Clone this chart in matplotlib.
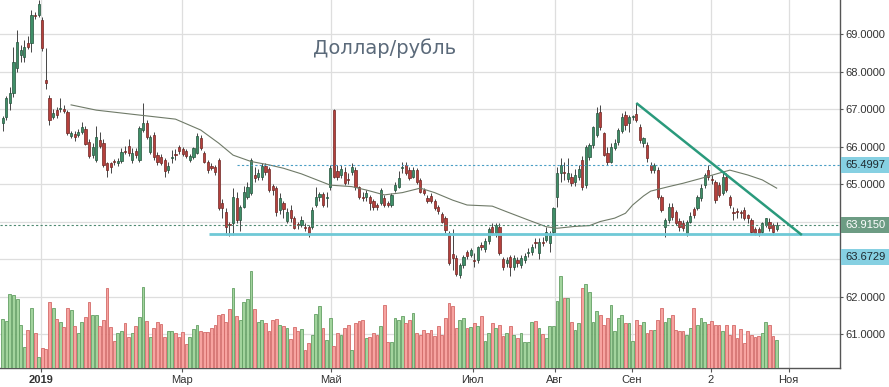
import matplotlib.pyplot as plt
from matplotlib.patches import Rectangle

# daily candles, USD/RUB
opens = [
    66.63, 66.79, 67.16, 67.43, 68.09, 68.44, 68.39, 68.76, 68.76, 69.51,
    69.51, 69.37, 67.77, 67.29, 66.79, 66.97, 67.01, 67.00, 66.92, 66.28,
    66.33, 66.31, 66.39, 66.47, 66.12, 65.77, 65.64, 66.17, 66.09, 65.56,
    65.56, 65.60, 65.56, 65.61, 65.88, 66.01, 65.64, 65.88, 65.64, 66.44,
    66.63, 65.85, 66.31, 65.77, 65.72, 65.64, 65.37, 65.69, 65.78, 65.99,
    65.93, 65.88, 65.64, 65.72, 65.83, 66.23, 65.83, 65.59, 65.48, 65.45,
    65.64, 64.49, 64.25, 63.91, 63.96, 64.63, 64.04, 64.39, 64.65, 64.76,
    65.24, 65.19, 65.19, 65.48, 65.40, 64.95, 64.89, 64.31, 64.49, 64.01,
    64.31, 64.09, 63.92, 63.91, 63.86, 63.85, 63.85, 64.44, 64.65, 64.73,
    64.62, 64.92, 66.97, 65.35, 65.24, 65.32, 65.11, 65.32, 65.37, 64.92,
    64.66, 64.65, 64.65, 64.55, 64.44, 64.49, 64.63, 64.49, 64.44, 64.84,
    64.92, 65.43, 65.51, 65.37, 65.19, 65.37, 65.11, 64.84, 64.63, 64.68,
    64.55, 64.39, 64.20, 64.09, 63.69, 63.13, 63.03, 62.57, 62.84, 63.19,
    63.11, 62.96, 62.97, 63.37, 63.27, 63.48, 63.85, 63.69, 63.85, 63.00,
    62.89, 63.05, 62.79, 62.97, 62.84, 62.97, 63.16, 63.19, 63.45, 63.16,
    63.45, 63.51, 63.43, 63.72, 64.65, 65.29, 65.32, 65.13, 65.19, 65.05,
    65.19, 65.64, 64.97, 65.72, 66.04, 66.31, 66.92, 66.36, 65.83, 65.59,
    65.96, 66.12, 66.41, 66.84, 66.63, 66.79, 66.87, 66.52, 66.09, 66.04,
    65.51, 65.37, 65.37, 64.65, 63.85, 64.04, 64.39, 64.25, 64.01, 63.96,
    63.69, 63.99, 64.33, 64.36, 64.63, 64.97, 65.37, 65.11, 65.05, 64.97,
    64.76, 65.19, 64.65, 64.25, 64.26, 64.23, 64.31, 64.17, 64.04, 63.80,
    63.80, 63.72, 63.91, 63.99, 63.91, 63.80]
highs = [
    66.81, 67.35, 67.59, 68.65, 69.11, 68.71, 68.84, 68.95, 69.64, 69.60,
    69.91, 69.45, 68.63, 67.37, 67.00, 67.05, 67.29, 67.10, 66.98, 66.42,
    66.42, 66.47, 66.65, 66.55, 66.20, 66.10, 66.55, 66.38, 66.20, 65.60,
    65.60, 65.66, 65.70, 65.95, 66.01, 66.20, 65.95, 65.95, 66.55, 67.16,
    66.70, 66.30, 66.40, 65.85, 65.80, 65.70, 65.60, 65.90, 65.93, 66.05,
    66.00, 65.93, 65.80, 66.00, 66.35, 66.30, 65.88, 65.65, 65.55, 65.50,
    65.70, 64.60, 64.35, 64.00, 64.90, 64.80, 64.45, 64.95, 65.05, 65.70,
    65.45, 65.40, 65.55, 65.55, 65.45, 65.00, 64.95, 64.75, 64.55, 64.35,
    64.45, 64.15, 64.00, 64.15, 63.95, 63.90, 64.40, 64.92, 64.78, 64.80,
    64.80, 65.50, 66.99, 65.50, 65.50, 65.45, 65.30, 65.56, 65.45, 64.95,
    64.80, 64.85, 64.70, 64.60, 64.50, 64.90, 64.70, 64.55, 64.75, 65.05,
    65.35, 65.60, 65.60, 65.45, 65.45, 65.42, 65.15, 64.90, 64.70, 64.75,
    64.60, 64.45, 64.25, 64.15, 63.75, 63.80, 63.10, 62.90, 63.10, 63.25,
    63.30, 63.15, 63.35, 63.45, 63.55, 63.85, 63.95, 63.95, 63.95, 63.05,
    63.05, 63.10, 63.10, 63.05, 63.10, 63.15, 63.30, 63.40, 63.55, 63.55,
    63.60, 63.85, 63.75, 64.40, 65.45, 65.70, 65.60, 65.70, 65.30, 65.40,
    65.50, 65.75, 66.05, 66.10, 66.55, 67.05, 67.10, 66.40, 66.00, 66.10,
    66.20, 66.50, 66.90, 66.95, 66.85, 66.85, 67.16, 66.60, 66.25, 66.12,
    65.60, 65.55, 65.45, 64.70, 64.10, 64.50, 64.50, 64.30, 64.10, 64.05,
    64.05, 64.25, 64.40, 64.70, 65.00, 65.30, 65.52, 65.25, 65.10, 65.05,
    65.30, 65.30, 64.70, 64.40, 64.35, 64.30, 64.40, 64.20, 64.10, 63.85,
    63.85, 64.00, 64.10, 64.10, 63.95, 64.00]
lows = [
    66.41, 66.70, 66.97, 67.32, 67.99, 68.25, 68.25, 68.60, 68.52, 69.40,
    69.45, 68.55, 67.53, 66.57, 66.74, 66.76, 66.92, 66.90, 66.30, 66.22,
    66.15, 66.25, 66.33, 66.03, 65.70, 65.70, 65.60, 65.95, 65.45, 65.19,
    65.30, 65.50, 65.48, 65.55, 65.80, 65.75, 65.55, 65.70, 65.60, 66.40,
    66.20, 65.80, 65.65, 65.50, 65.50, 65.20, 65.30, 65.55, 65.63, 65.80,
    65.75, 65.70, 65.60, 65.68, 65.80, 65.90, 65.55, 65.30, 65.38, 65.25,
    64.30, 64.10, 63.64, 63.62, 63.65, 63.95, 63.75, 64.35, 64.60, 64.70,
    65.05, 65.10, 65.10, 65.25, 64.80, 64.70, 64.15, 64.20, 64.10, 63.95,
    64.00, 63.80, 63.80, 63.85, 63.75, 63.60, 63.80, 64.40, 64.55, 64.40,
    64.40, 64.85, 65.15, 65.10, 65.15, 64.98, 65.00, 65.25, 64.85, 64.60,
    64.55, 64.55, 64.30, 64.30, 64.30, 64.45, 64.40, 64.40, 64.40, 64.80,
    64.90, 65.30, 65.25, 65.10, 65.15, 65.00, 64.75, 64.70, 64.50, 64.50,
    64.30, 64.20, 63.95, 63.70, 62.85, 62.70, 62.55, 62.50, 62.75, 63.00,
    63.05, 62.80, 62.90, 63.25, 63.20, 63.40, 63.65, 63.60, 63.10, 62.70,
    62.80, 62.55, 62.70, 62.80, 62.75, 62.90, 63.05, 63.10, 63.30, 63.00,
    63.35, 63.45, 63.20, 63.65, 64.40, 65.05, 65.10, 65.05, 64.95, 64.95,
    65.10, 64.85, 64.90, 65.65, 65.95, 66.25, 66.45, 65.75, 65.50, 65.55,
    65.90, 66.05, 66.35, 66.45, 66.40, 66.70, 66.65, 66.10, 66.00, 65.60,
    65.30, 65.30, 64.60, 64.25, 63.59, 63.95, 64.05, 63.90, 63.75, 63.75,
    63.62, 63.95, 64.10, 64.30, 64.55, 64.90, 65.10, 65.00, 64.50, 64.65,
    64.70, 64.80, 64.35, 64.05, 64.10, 64.10, 64.05, 63.95, 63.70, 63.65,
    63.62, 63.68, 63.85, 63.75, 63.65, 63.75]
closes = [
    66.76, 67.29, 67.43, 68.25, 68.79, 68.57, 68.65, 68.65, 69.51, 69.48,
    69.80, 68.63, 67.69, 66.71, 66.89, 66.84, 67.03, 66.95, 66.36, 66.36,
    66.25, 66.39, 66.52, 66.07, 65.75, 65.99, 66.25, 66.01, 65.51, 65.37,
    65.45, 65.59, 65.61, 65.85, 65.86, 65.83, 65.83, 65.77, 66.49, 66.63,
    66.25, 66.25, 65.72, 65.59, 65.56, 65.35, 65.48, 65.70, 65.77, 65.88,
    65.80, 65.75, 65.75, 65.96, 66.28, 65.96, 65.59, 65.37, 65.43, 65.32,
    64.36, 64.36, 63.85, 63.90, 64.65, 64.04, 64.39, 64.79, 64.92, 65.64,
    65.16, 65.29, 65.48, 65.32, 64.84, 64.84, 64.25, 64.63, 64.33, 64.25,
    64.09, 63.83, 63.90, 64.04, 63.84, 63.67, 64.31, 64.65, 64.73, 64.44,
    64.63, 65.43, 65.19, 65.19, 65.40, 65.03, 65.10, 65.45, 64.92, 64.65,
    64.64, 64.76, 64.49, 64.39, 64.39, 64.84, 64.44, 64.44, 64.71, 64.97,
    65.16, 65.45, 65.29, 65.16, 65.37, 65.05, 64.79, 64.76, 64.55, 64.55,
    64.36, 64.28, 63.99, 63.77, 62.89, 63.03, 62.60, 62.84, 63.05, 63.08,
    63.24, 62.95, 63.32, 63.32, 63.48, 63.80, 63.69, 63.91, 63.16, 62.79,
    62.97, 62.79, 63.03, 62.89, 63.03, 63.08, 63.17, 63.32, 63.43, 63.45,
    63.43, 63.72, 63.64, 64.36, 65.29, 65.51, 65.29, 65.29, 65.03, 65.24,
    65.40, 64.92, 65.99, 66.04, 66.52, 66.89, 66.52, 65.77, 65.59, 65.99,
    66.09, 66.44, 66.79, 66.57, 66.79, 66.80, 66.71, 66.17, 66.23, 65.69,
    65.37, 65.51, 64.65, 64.31, 64.04, 64.39, 64.12, 63.96, 63.85, 63.83,
    63.99, 64.15, 64.17, 64.65, 64.89, 65.24, 65.19, 65.10, 64.57, 64.71,
    65.19, 64.84, 64.44, 64.24, 64.25, 64.22, 64.09, 64.09, 63.72, 63.69,
    63.69, 63.96, 64.09, 63.83, 63.72, 63.92]
volumes = [
    49, 47, 74, 73, 69, 43, 21, 38, 60, 35, 11, 20, 19, 66, 60, 49, 46, 41, 60, 58,
    42, 35, 46, 51, 66, 53, 53, 42, 48, 80, 41, 27, 35, 37, 45, 31, 35, 42, 51, 81,
    47, 31, 40, 46, 44, 31, 37, 37, 35, 31, 36, 24, 31, 39, 43, 37, 36, 36, 40, 43,
    53, 54, 46, 59, 80, 52, 48, 66, 69, 97, 59, 46, 48, 45, 37, 48, 49, 43, 42, 40,
    29, 41, 37, 39, 18, 25, 33, 54, 62, 40, 28, 50, 22, 35, 33, 40, 43, 18, 45, 47,
    48, 30, 31, 35, 33, 42, 63, 26, 26, 50, 48, 52, 45, 48, 55, 35, 33, 38, 35, 38,
    32, 42, 33, 50, 65, 62, 40, 48, 50, 40, 41, 45, 42, 52, 27, 35, 45, 40, 43, 32,
    35, 42, 33, 30, 35, 26, 26, 46, 47, 40, 34, 30, 42, 42, 67, 92, 70, 70, 46, 38,
    45, 80, 84, 76, 46, 57, 53, 43, 50, 63, 37, 50, 53, 45, 45, 27, 48, 43, 46, 35,
    38, 38, 48, 60, 46, 50, 53, 38, 37, 37, 33, 40, 60, 43, 50, 46, 44, 47, 43, 43,
    37, 43, 33, 43, 30, 39, 25, 37, 33, 31, 32, 35, 46, 43, 32, 28]

# moving average, sampled at these bars
ma_bars = [19, 26, 36, 48, 55, 60, 64, 69, 74, 78, 83, 91, 97, 101, 106, 111, 116,
           120, 125, 129, 136, 140, 146, 151, 154, 159, 163, 166, 170, 173, 175,
           178, 180, 185, 189, 194, 199, 202, 207, 211, 215]
ma_vals = [67.11, 66.97, 66.86, 66.73, 66.44, 66.09, 65.77, 65.60, 65.51, 65.42,
           65.27, 64.97, 64.93, 64.84, 64.71, 64.77, 64.89, 64.77, 64.57, 64.44,
           64.41, 64.26, 64.04, 63.86, 63.82, 63.87, 63.89, 64.00, 64.09, 64.22,
           64.44, 64.68, 64.81, 64.93, 65.02, 65.15, 65.29, 65.37, 65.24, 65.11, 64.89]

support = 63.6729
resistance = 65.4997
last_price = 63.9150
trend_bars = [176, 222]
trend_vals = [67.16, 63.64]

month_pos = [10.6, 49.8, 91.2, 130.6, 153.3, 174.8, 196.7, 218.3]
month_labels = ["2019", "Мар", "Май", "Июл", "Авг", "Сен", "2", "Ноя"]
price_ticks = [61, 62, 63, 64, 65, 66, 67, 68, 69]

plt.rcParams['font.family'] = ['Liberation Sans', 'DejaVu Sans']

fig = plt.figure(figsize=(8.89, 3.87), dpi=100)
ax = fig.add_axes([0, 0.0501, 0.9449, 0.9499])
ax2 = ax.twinx()
ax.yaxis.tick_right()

n = len(closes)
xs = list(range(n))
up = [c >= o for o, c in zip(opens, closes)]

# volume bars (own scale, drawn at the bottom)
vol_face = ['#a2d49d' if u else '#f7a3a0' for u in up]
vol_edge = ['#64a064' if u else '#d36b69' for u in up]
ax2.bar(xs, volumes, width=0.78, color=vol_face, edgecolor=vol_edge, linewidth=0.6)
ax2.set_ylim(0, 367.6)
ax2.set_axis_off()

# candles
body_face = ['#3f8f68' if u else '#b5403c' for u in up]
body_edge = ['#24513b' if u else '#6e2623' for u in up]
bottoms = [min(o, c) for o, c in zip(opens, closes)]
heights = [max(abs(c - o), 0.025) for o, c in zip(opens, closes)]
ax.vlines(xs, lows, highs, color='#454545', lw=0.7, zorder=2)
ax.bar(xs, heights, bottom=bottoms, width=0.62, color=body_face,
       edgecolor=body_edge, linewidth=0.5, zorder=3)

ax.plot(ma_bars, ma_vals, color='#6f7a68', lw=0.8, zorder=4)

ax.set_xlim(-0.75, 232.6)
ax.set_ylim(60.104, 69.907)

ax.hlines(support, 57.3, 232.6, color='#6fc9d6', lw=2, zorder=4)
ax.hlines(resistance, 65, 232.6, color='#4a9ec4', lw=0.8, linestyles=(0, (2, 2)), zorder=4)
ax.hlines(last_price, -0.75, 232.6, color='#4f8a72', lw=0.8, linestyles=(0, (2, 2)), zorder=4)
ax.plot(trend_bars, trend_vals, color='#2a9a7c', lw=1.8, solid_capstyle='butt', zorder=5)

# axes styling
ax.set_yticks(price_ticks)
ax.set_yticklabels(['' if t in (63, 64) else f'{t:.4f}' for t in price_ticks])
ax.set_xticks(month_pos)
ax.set_xticklabels(month_labels)
ax.get_xticklabels()[0].set_fontweight('bold')
ax.set_axisbelow(True)
ax.grid(color='#dedede', lw=0.9)
for side in ('left', 'top'):
    ax.spines[side].set_visible(False)
for side in ('right', 'bottom'):
    ax.spines[side].set_color('#555555')
    ax.spines[side].set_linewidth(1)
ax.tick_params(axis='y', length=2.5, pad=1.5, labelsize=8, colors='#555555', labelcolor='#333333')
ax.tick_params(axis='x', length=3, pad=2, labelsize=8, colors='#555555', labelcolor='#333333')

ytr = ax.get_yaxis_transform()
# top label is partly cut by the frame edge, as in the source
ax.text(1.006, 69.98, '70.0000', transform=ytr, va='center', ha='left', fontsize=8,
        color='#333333', clip_on=False)


def price_tag(val, text, fc, tc):
    ax.add_patch(Rectangle((1.0015, val - 0.215), 0.06, 0.43, transform=ytr,
                           clip_on=False, fc=fc, ec='none', zorder=6))
    ax.text(1.006, val, text, transform=ytr, va='center', ha='left', fontsize=8,
            color=tc, clip_on=False, zorder=7)


price_tag(resistance, f'{resistance:.4f}', '#86d0e2', '#1e2a30')
price_tag(last_price, f'{last_price:.4f}', '#6d9c84', 'white')
price_tag(63.06, f'{support:.4f}', '#86d0e2', '#1e2a30')

fig.text(385 / 889, 1 - 48 / 387, 'Доллар/рубль', ha='center', va='center',
         fontsize=14, color='#5b6a7a', family='DejaVu Sans')

fig.savefig('out.png', dpi=100)
